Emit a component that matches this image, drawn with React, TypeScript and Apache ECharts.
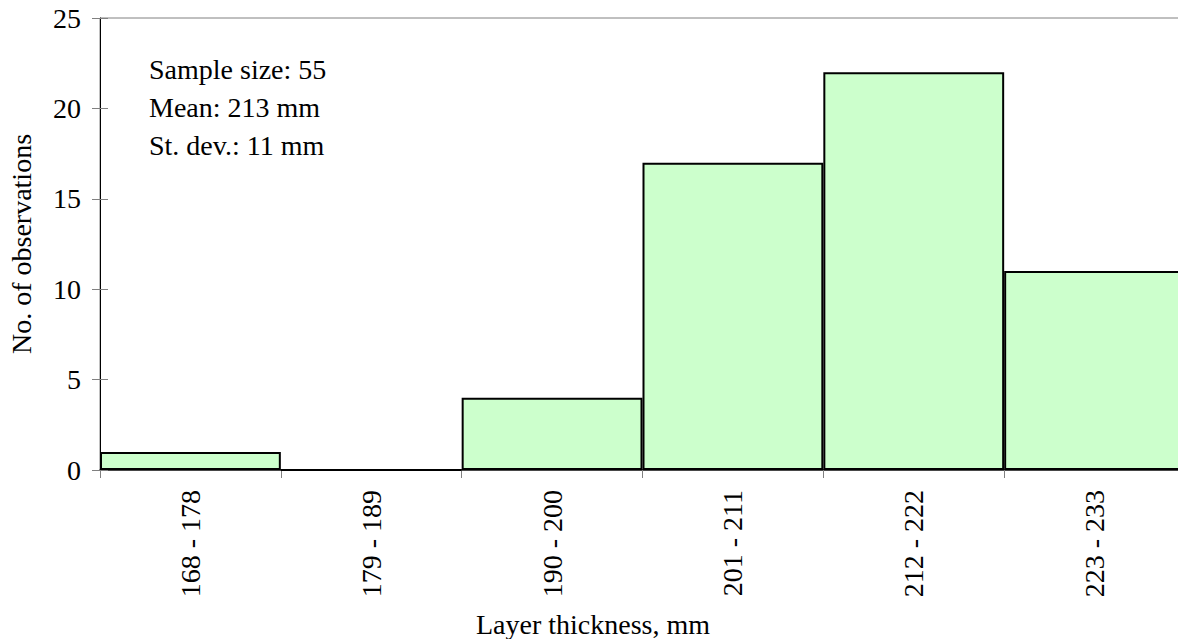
import React, { useEffect, useRef } from "react";
import * as echarts from "echarts";

const categories = ["168 - 178", "179 - 189", "190 - 200", "201 - 211", "212 - 222", "223 - 233"];
const counts = [1, 0, 4, 17, 22, 11];
const yTicks = { min: 0, max: 25, interval: 5 };
const statsLines = ["Sample size: 55", "Mean: 213 mm", "St. dev.: 11 mm"];
const xAxisTitle = "Layer thickness, mm";
const yAxisTitle = "No. of observations";

const FONT = "'Liberation Serif', 'Times New Roman', serif";

export default function App() {
  const ref = useRef<HTMLDivElement>(null);
  useEffect(() => {
    if (!ref.current) return;
    const chart = echarts.init(ref.current, undefined, { renderer: "svg" });
    chart.setOption({
      animation: false,
      backgroundColor: "#ffffff",
      textStyle: { fontFamily: FONT, color: "#000" },
      grid: {
        left: 100,
        top: 18,
        right: 6,
        bottom: 169,
        outerBoundsMode: "none",
        show: true,
        borderColor: "#808080",
        borderWidth: 1,
        backgroundColor: "transparent",
      },
      xAxis: {
        type: "category",
        data: categories,
        axisLine: { show: true, lineStyle: { color: "#222", width: 1.5 } },
        axisTick: { show: true, length: 8, lineStyle: { color: "#808080", width: 1 } },
        axisLabel: {
          rotate: 90,
          margin: 20,
          fontSize: 28,
          fontFamily: FONT,
          color: "#000",
        },
        splitLine: { show: false },
      },
      yAxis: [
        {
          type: "value",
          min: yTicks.min,
          max: yTicks.max,
          interval: yTicks.interval,
          name: yAxisTitle,
          nameLocation: "middle",
          nameGap: 65,
          nameRotate: 90,
          nameTextStyle: { fontSize: 28, fontFamily: FONT, color: "#000" },
          axisLine: { show: true, lineStyle: { color: "#000", width: 1 } },
          axisTick: { show: true, length: 8, lineStyle: { color: "#808080", width: 1 } },
          axisLabel: { margin: 19, fontSize: 28, fontFamily: FONT, color: "#000" },
          splitLine: { show: false },
        },
        {
          type: "value",
          position: "left",
          min: yTicks.min,
          max: yTicks.max,
          interval: yTicks.interval,
          axisLine: { show: false },
          axisTick: { show: true, inside: true, length: 8, lineStyle: { color: "#808080", width: 1 } },
          axisLabel: { show: false },
          splitLine: { show: false },
        },
      ],
      series: [
        {
          type: "bar",
          data: counts,
          barCategoryGap: "0%",
          itemStyle: { color: "#CCFFCC", borderColor: "#000", borderWidth: 2 },
          z: 3,
        },
      ],
      graphic: [
        ...statsLines.map((t, i) => ({
          type: "text",
          left: 149,
          top: 71 + i * 38 - 16,
          style: {
            text: t,
            fontSize: 28,
            fontFamily: FONT,
            fill: "#000",
          },
          z: 10,
        })),
        {
          type: "text",
          x: 593,
          y: 624,
          style: {
            text: xAxisTitle,
            fontSize: 28,
            fontFamily: FONT,
            fill: "#000",
            align: "center",
            verticalAlign: "middle",
          },
        },
      ],
    });
    return () => chart.dispose();
  }, []);
  return (
    <div
      ref={ref}
      style={{ position: "fixed", left: 0, top: 0, width: 1191, height: 639 }}
    />
  );
}
